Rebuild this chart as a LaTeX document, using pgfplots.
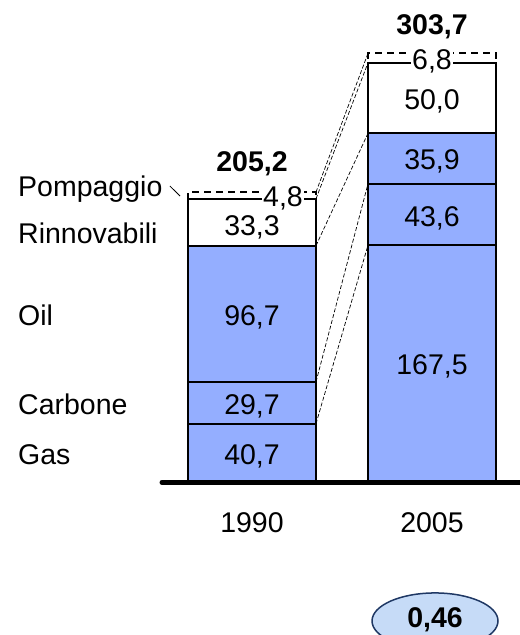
\documentclass[border=0pt]{standalone}
\usepackage{pgfplots}
\pgfplotsset{compat=1.18}
\usepackage{fontspec}
\setmainfont{Liberation Sans}
\definecolor{barblue}{RGB}{148,174,255}
\definecolor{ovalfill}{RGB}{198,219,247}
\definecolor{ovalline}{RGB}{31,56,100}

\pgfplotsset{frame/.style={
  at={(0,0)}, anchor=south west,
  scale only axis, width=520bp, height=635bp,
  xmin=-1.4, xmax=1.48889, ymin=-109.375, ymax=341.619,
  hide axis, clip=false}}

\begin{document}
\begin{tikzpicture}[every node/.style={font=\fontsize{28.5bp}{34bp}\selectfont}]
\begin{axis}[frame,
  ybar stacked, bar width=128bp,
  every axis plot/.append style={line width=2bp, draw=black},
]
% 1990 at x=0, 2005 at x=1
\addplot[fill=barblue] coordinates {(0,40.7) (1,167.5)}; % Gas
\addplot[fill=barblue] coordinates {(0,29.7) (1,43.6)};  % Carbone
\addplot[fill=barblue] coordinates {(0,96.7) (1,35.9)};  % Oil
\addplot[fill=white] coordinates {(0,33.3) (1,50.0)};    % Rinnovabili
\addplot[fill=white, dash pattern=on 7bp off 5bp] coordinates {(0,4.8) (1,6.8)}; % Pompaggio
\end{axis}

% annotations on a second, identical axis so they sit above the bars
\begin{axis}[frame]
% connectors between cumulative levels
\draw[line width=0.7bp, dash pattern=on 4bp off 2bp] (axis cs:0.35556,40.7) -- (axis cs:0.64444,167.5);
\draw[line width=0.7bp, dash pattern=on 4bp off 2bp] (axis cs:0.35556,70.4) -- (axis cs:0.64444,211.1);
\draw[line width=0.7bp, dash pattern=on 4bp off 2bp] (axis cs:0.35556,167.1) -- (axis cs:0.64444,247.0);
\draw[line width=0.7bp, dash pattern=on 4bp off 2bp] (axis cs:0.35556,200.4) -- (axis cs:0.64444,297.0);
\draw[line width=0.7bp, dash pattern=on 4bp off 2bp] (axis cs:0.35556,205.2) -- (axis cs:0.64444,303.8);

% segment values
\node[anchor=base] at (axis cs:0,12) {40,7};
\node[anchor=base] at (axis cs:0,46.9) {29,7};
\node[anchor=base] at (axis cs:0,110.1) {96,7};
\node[anchor=base] at (axis cs:0,174.7) {33,3};
\node[anchor=base, fill=white, inner sep=1bp] at (axis cs:0.172,195.3) {4,8};
\node[anchor=base] at (axis cs:1,75.3) {167,5};
\node[anchor=base] at (axis cs:1,181.1) {43,6};
\node[anchor=base] at (axis cs:1,220.9) {35,9};
\node[anchor=base] at (axis cs:1,264.0) {50,0};
\node[anchor=base, fill=white, inner sep=1bp] at (axis cs:1,292.6) {6,8};

% totals
\node[anchor=base, font=\fontsize{28.5bp}{34bp}\selectfont\bfseries] at (axis cs:0,219.5) {205,2};
\node[anchor=base, font=\fontsize{28.5bp}{34bp}\selectfont\bfseries] at (axis cs:1,316.8) {303,7};

% series names
\node[anchor=base west, inner sep=0] at (axis cs:-1.3,201.7) {Pompaggio};
\node[anchor=base west, inner sep=0] at (axis cs:-1.3,169.0) {Rinnovabili};
\node[anchor=base west, inner sep=0] at (axis cs:-1.3,110.1) {Oil};
\node[anchor=base west, inner sep=0] at (axis cs:-1.3,46.9) {Carbone};
\node[anchor=base west, inner sep=0] at (axis cs:-1.3,12) {Gas};
\draw[line width=0.8bp] (axis cs:-0.456,209.5) -- (axis cs:-0.4,202.4);

% years
\node[anchor=base] at (axis cs:0,-36.9) {1990};
\node[anchor=base] at (axis cs:1,-36.9) {2005};

% baseline
\draw[line width=5bp, line cap=round] (axis cs:-0.5,-1) -- (axis cs:1.6,-1);

% ratio oval
\draw[line width=1.5bp, draw=ovalline, fill=ovalfill] (axis cs:1.0167,-99.4) ellipse [x radius=63bp, y radius=28bp];
\node[anchor=base, font=\fontsize{28.5bp}{34bp}\selectfont\bfseries] at (axis cs:1.0167,-103.7) {0,46};
\end{axis}
\pgfresetboundingbox
\useasboundingbox (0,0) rectangle (520bp,635bp);
\end{tikzpicture}
\end{document}
